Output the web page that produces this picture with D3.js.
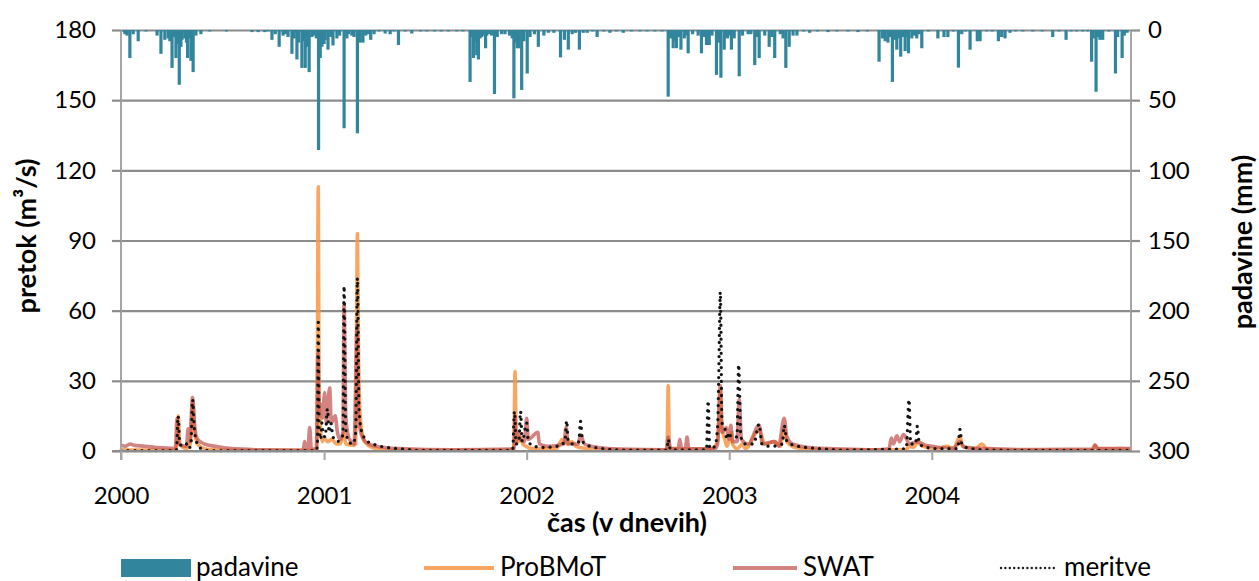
<!DOCTYPE html>
<html><head><meta charset="utf-8">
<script src="https://cdn.jsdelivr.net/npm/d3@7"></script>
<style>
html,body{margin:0;padding:0;background:#fff;}
svg text{font-family:Lato,"Noto Sans",sans-serif;fill:#000;}
</style></head>
<body>
<svg id="c" width="1259" height="581"></svg>
<script>
// ---- data (day index since 2000-01-01, value) ----
const yearTicks = ["2000","2001","2002","2003","2004"];
const leftTicks = [0,30,60,90,120,150,180];
const rightTicks = [0,50,100,150,200,250,300];

// precipitation (mm)
const padavine = [[3,1],[7,3],[11,4],[16,20],[22,3],[31,8],[45,1],[65,4],[72,17],[79,7],[85,6],[88,8],[92,27],[95,5],[99,20],[102,10],[105,39],[108,12],[110,7],[115,6],[118,9],[120,20],[123,6],[126,22],[128,5],[130,30],[135,4],[144,3],[160,1],[190,1],
[236,1.5],[247,1.5],[259,1.5],[265,1],[272,7],[278,3],[285,12],[292,4],[296,3],[301,5],[308,17],[312,6],[317,21],[320,9],[326,27],[329,8],[332,27],[335,12],[339,30],[344,5],[348,4],[352,6],[356,85.5],[359,20],[362,12],[366,10],[368,7],[373,14],[378,5],[382,11],[389,6],[394,4],[402,70],[407,6],[410,3],[416,4],[420,5],[426,73.6],[431,9],[436,9],[441,4],[446,3],[450,7],[456,3],[465,1],[476,2.5],[485,3],[492,1],[500,10.7],[512,1],[524,2.5],[540,1],[551,1],[565,1],[577,1],[590,1],[605,1],[616,1],
[629,37],[632,5],[635,20],[638,8],[641,18],[644,21],[647,6],[650,5],[654,4],[657,13],[659,4],[664,3],[668,4],[673,45.6],[678,5],[686,3],[692,3],[700,4],[705,6],[708,48.7],[711,9],[714,13],[717,13],[722,42.7],[726,8],[732,31],[737,5],[745,3],[752,12],[762,4],[770,2],[780,2],[792,19.5],[799,7],[806,14],[813,3],[819,2],[826,14],[833,2],[840,2],[850,1],[858,5],[870,1],[881,2],[893,1],[905,2],[920,1],[935,1],[948,1],[962,1],[975,1],
[986,47.5],[990,6],[995,13],[998,8],[1001,13],[1005,5],[1009,14],[1015,6],[1018,4],[1022,16.6],[1030,3],[1040,4],[1046,16.6],[1050,5],[1055,10.7],[1060,10.7],[1065,4],[1073,32],[1078,9],[1081,34],[1087,14],[1090,5],[1093,6],[1096,4],[1100,14],[1105,6],[1114,33],[1120,4],[1130,3],[1135,3],[1142,25],[1146,5],[1150,20],[1160,4],[1168,12],[1173,5],[1178,20],[1188,3],[1193,6],[1198,27],[1204,12],[1211,4],[1218,4],[1230,1],[1241,2],[1255,1],[1274,1.5],[1290,1],[1310,1],[1328,1.5],[1345,1],
[1366,22.6],[1372,6],[1377,8],[1382,9],[1386,5],[1390,37],[1394,7],[1398,14],[1401,6],[1405,19],[1409,5],[1413,15],[1416,5],[1419,16.6],[1425,6],[1430,4],[1434,6],[1438,3],[1443,13],[1455,1],[1472,6],[1483,5],[1490,5],[1500,1],[1509,26.8],[1515,3],[1522,1],[1530,14],[1543,8],[1548,8],[1560,1],[1570,1],[1581,8],[1587,5],[1593,6],[1602,2],[1612,1],[1625,1],[1643,1],[1660,1],[1679,5],[1690,1],[1703,7],[1712,1],[1722,1],[1733,1],[1742,1],[1749,22.6],[1752,6],[1757,44],[1760,5],[1764,7],[1769,7],[1780,1],[1792,31],[1796,5],[1804,20],[1808,4],[1813,2]];

// ProBMoT modelled discharge (m3/s)
const probmot = [[0,0.5],[40,0.4],[97,0.5],[100,2],[103,15],[106,3],[112,1.5],[118,1.2],[125,3],[129,21],[133,8],[138,3],[145,1.5],[160,0.6],[200,0.3],[350,0.3],[353,1],[355.5,113],[357,20],[360,8],[363,4],[366,6],[372,4],[380,5],[388,3],[395,3],[402,8],[405,3],[420,2.5],[423,3],[426,93],[428,40],[431,15],[436,6],[445,2.5],[460,1],[480,0.3],
[706,0.4],[708,1],[710,34],[712,8],[716,4],[720,6],[724,3],[730,2],[740,1],[785,1],[790,3],[795,5],[805,3],[812,4],[820,2],[840,1],[870,0.4],[984,0.5],[986,28],[988,3],[991,1],[1040,0.8],[1065,1],[1075,4],[1080,26],[1083,10],[1088,5],[1092,2],[1100,8],[1102,3],[1110,1],[1120,3],[1125,1],[1150,9],[1160,3],[1178,4],[1188,2],[1195,10],[1200,4],[1215,1.5],[1260,0.4],
[1415,0.6],[1420,2],[1428,1.5],[1435,3.5],[1445,2],[1470,1],[1488,2],[1500,1],[1512,6.5],[1516,2],[1540,1],[1551,3],[1560,1],[1600,0.4],[1750,0.4],[1755,2.5],[1760,1],[1820,0.8]];

// SWAT modelled discharge (m3/s)
const swat = [[0,2.5],[8,2],[16,3],[24,2.4],[40,2.1],[60,1.6],[90,1.2],[98,1],[101,14],[104,3],[118,2],[121,9.5],[124,4],[129,23],[133,10],[138,5],[150,3],[170,2],[200,1],[250,0.5],[328,0.3],[331,4],[334,1],[337,1],[340,10],[343,1],[352,0.8],
[355,42],[357,15],[360,20],[363,14],[367,25],[370,12],[376,27],[379,12],[386,15],[390,8],[395,5],[400,8],[402,63],[405,15],[410,6],[415,4],[420,3],[425.5,54],[428,15],[432,8],[440,4],[460,2],[500,1],[600,0.5],[700,0.8],
[708,1],[710,15],[712,4],[716,8],[719,5],[727,4],[731,14],[734,5],[751,8],[754,3],[770,2],[798,3],[802,10],[806,3],[824,3],[828,7],[835,3],[860,1.5],[900,0.8],[983,0.5],[986,6],[990,1],[1004,1],[1007,5],[1010,1],[1017,1],[1020,6],[1023,1],[1070,0.8],[1075,3],[1080,28],[1083,8],[1091,10],[1095,5],[1099,11],[1102,4],[1110,4],[1114,22],[1118,5],[1130,3],[1150,11],[1156,3],[1178,4],[1185,2],[1195,14],[1200,6],[1210,3],[1240,1.5],[1300,0.8],[1360,0.5],
[1384,1],[1388,5.5],[1392,3],[1398,6.5],[1403,4],[1410,7],[1416,5],[1420,3],[1435,4],[1450,2.5],[1500,1.2],[1512,4],[1520,1.5],[1560,1],[1650,0.6],[1752,0.8],[1755,2.5],[1760,1],[1800,1.2],[1820,1]];

// meritve (measured discharge, m3/s)
const meritve = [[0,0.2],[95,0.2],[100,0.5],[103,15],[106,3],[112,2],[118,3],[122,1],[126,3],[129,22],[132,10],[136,4],[142,1.5],[150,0.5],[160,0.2],[352,0.2],[354,3],[355.5,55],[357,10],[360,5],[362,12],[364,8],[368,6],[372,18],[375,8],[378,12],[382,6],[390,4],[395,5],[400,7],[402,70.5],[405,10],[410,4],[418,3],[423,8],[426,74],[429,18],[434,8],[445,4],[460,2.5],[480,1.5],[500,1],[512,0.8],[530,0.3],
[704,0.3],[706,1],[709,17],[712,3],[717,4],[720,17],[723,4],[731,12],[734,4],[745,2],[760,1.5],[785,2],[800,4],[803,13],[806,4],[815,3],[825,4],[828,12.7],[832,4],[845,2],[870,1],[900,0.4],[984,0.4],[986,5],[990,0.5],[1055,0.5],[1058,21.5],[1061,1],[1070,2],[1075,10],[1077,30],[1080,68],[1083,12],[1088,10],[1092,5],[1096,8],[1099,6],[1110,6],[1113,37],[1117,6],[1125,3],[1140,3],[1150,11.5],[1155,3],[1170,2],[1192,3],[1195,11],[1200,4],[1220,2],[1260,1],[1300,0.4],
[1415,1],[1420,22],[1423,3],[1432,3],[1435,10.7],[1438,4],[1445,2],[1470,1],[1508,1],[1512,9.3],[1515,3],[1530,1],[1560,0.5],[1600,0.3],[1820,0.3]];

// ---- layout ----
const svg = d3.select("#c");
const L = 121, R = 1131, T = 30, B = 451;
const start = new Date(2000,0,1);
const toDate = d => new Date(start.getTime() + d*86400000);
const x = d3.scaleTime().domain([start, toDate(1820)]).range([L, R]);
const yL = d3.scaleLinear().domain([0,180]).range([B, T]);
const yR = d3.scaleLinear().domain([0,300]).range([T, B]);
const gridCol = "#8c8c8c", axisCol = "#a6a6a6";
const tickFont = "24px", titleFont = "27px", legendFont = "26px";

// gridlines
svg.append("g").attr("transform",`translate(${L},0)`)
  .call(d3.axisLeft(yL).tickValues(leftTicks).tickSize(-(R-L)).tickFormat(""))
  .call(g=>g.select(".domain").remove())
  .call(g=>g.selectAll("line").attr("stroke",gridCol).attr("stroke-width",2.2));

// precipitation bars (hang from top)
svg.append("g").selectAll("rect").data(padavine).join("rect")
  .attr("x", d => x(toDate(d[0])) - 1.6)
  .attr("width", 3.2)
  .attr("y", yR(0))
  .attr("height", d => yR(d[1]) - yR(0))
  .attr("fill", "#31859c");

// lines
const line = (sc) => d3.line().x(d => x(toDate(d[0]))).y(d => sc(d[1])).curve(d3.curveMonotoneX);
svg.append("path").datum(probmot).attr("d", line(yL))
  .attr("fill","none").attr("stroke","#f79646").attr("stroke-opacity",0.85).attr("stroke-width",3.6).attr("stroke-linejoin","round");
svg.append("path").datum(swat).attr("d", line(yL))
  .attr("fill","none").attr("stroke","#c0504d").attr("stroke-opacity",0.7).attr("stroke-width",3.6).attr("stroke-linejoin","round");
svg.append("path").datum(meritve).attr("d", line(yL))
  .attr("fill","none").attr("stroke","#141414").attr("stroke-width",3.3).attr("stroke-linecap","round").attr("stroke-dasharray","0 7");

// left axis
const gl = svg.append("g").attr("transform",`translate(${L},0)`)
  .call(d3.axisLeft(yL).tickValues(leftTicks).tickSize(9).tickPadding(16));
gl.select(".domain").attr("stroke",axisCol).attr("stroke-width",2).attr("d",`M0,${T}V${B+9}`);
gl.selectAll("line").attr("stroke",gridCol).attr("stroke-width",2.2);
gl.selectAll("text").style("font-size",tickFont).style("font-family","Lato");

// right axis
const gr = svg.append("g").attr("transform",`translate(${R},0)`)
  .call(d3.axisRight(yR).tickValues(rightTicks).tickSize(9).tickPadding(8));
gr.select(".domain").attr("stroke",axisCol).attr("stroke-width",2).attr("d",`M0,${T}V${B}`);
gr.selectAll("line").attr("stroke",gridCol).attr("stroke-width",2.2);
gr.selectAll("text").style("font-size",tickFont).style("font-family","Lato");

// bottom axis
const yearDates = yearTicks.map(s => new Date(+s,0,1));
const gb = svg.append("g").attr("transform",`translate(0,${B})`)
  .call(d3.axisBottom(x).tickValues(yearDates).tickSize(9).tickPadding(27).tickFormat((d,i)=>yearTicks[i]));
gb.select(".domain").attr("stroke",gridCol).attr("stroke-width",2.2).attr("d",`M${L-9},0H${R}`);
gb.selectAll("line").attr("stroke",axisCol).attr("stroke-width",2);
gb.selectAll("text").style("font-size",tickFont).style("font-family","Lato");

// titles
svg.append("text").attr("transform",`translate(36,236) rotate(-90)`).attr("text-anchor","middle")
  .style("font-size",titleFont).style("font-weight","bold").text("pretok (m³/s)");
svg.append("text").attr("transform",`translate(1252,242) rotate(-90)`).attr("text-anchor","middle")
  .style("font-size",titleFont).style("font-weight","bold").text("padavine (mm)");
svg.append("text").attr("x",627).attr("y",532).attr("text-anchor","middle")
  .style("font-size",titleFont).style("font-weight","bold").text("čas (v dnevih)");

// legend
const lg = svg.append("g");
const ly = 568;
lg.append("rect").attr("x",121).attr("y",ly-9).attr("width",70).attr("height",18).attr("fill","#31859c");
lg.append("text").attr("x",196).attr("y",ly+8).style("font-size",legendFont).text("padavine");
lg.append("line").attr("x1",424).attr("x2",494).attr("y1",ly).attr("y2",ly).attr("stroke","#f79646").attr("stroke-opacity",0.85).attr("stroke-width",4);
lg.append("text").attr("x",500).attr("y",ly+8).style("font-size",legendFont).text("ProBMoT");
lg.append("line").attr("x1",733).attr("x2",797).attr("y1",ly).attr("y2",ly).attr("stroke","#c0504d").attr("stroke-opacity",0.7).attr("stroke-width",4);
lg.append("text").attr("x",803).attr("y",ly+8).style("font-size",legendFont).text("SWAT");
lg.append("line").attr("x1",1001).attr("x2",1056).attr("y1",ly).attr("y2",ly).attr("stroke","#1a1a1a").attr("stroke-width",2.4).attr("stroke-linecap","round").attr("stroke-dasharray","0 4.4");
lg.append("text").attr("x",1064).attr("y",ly+8).style("font-size",legendFont).text("meritve");
</script>
</body></html>
